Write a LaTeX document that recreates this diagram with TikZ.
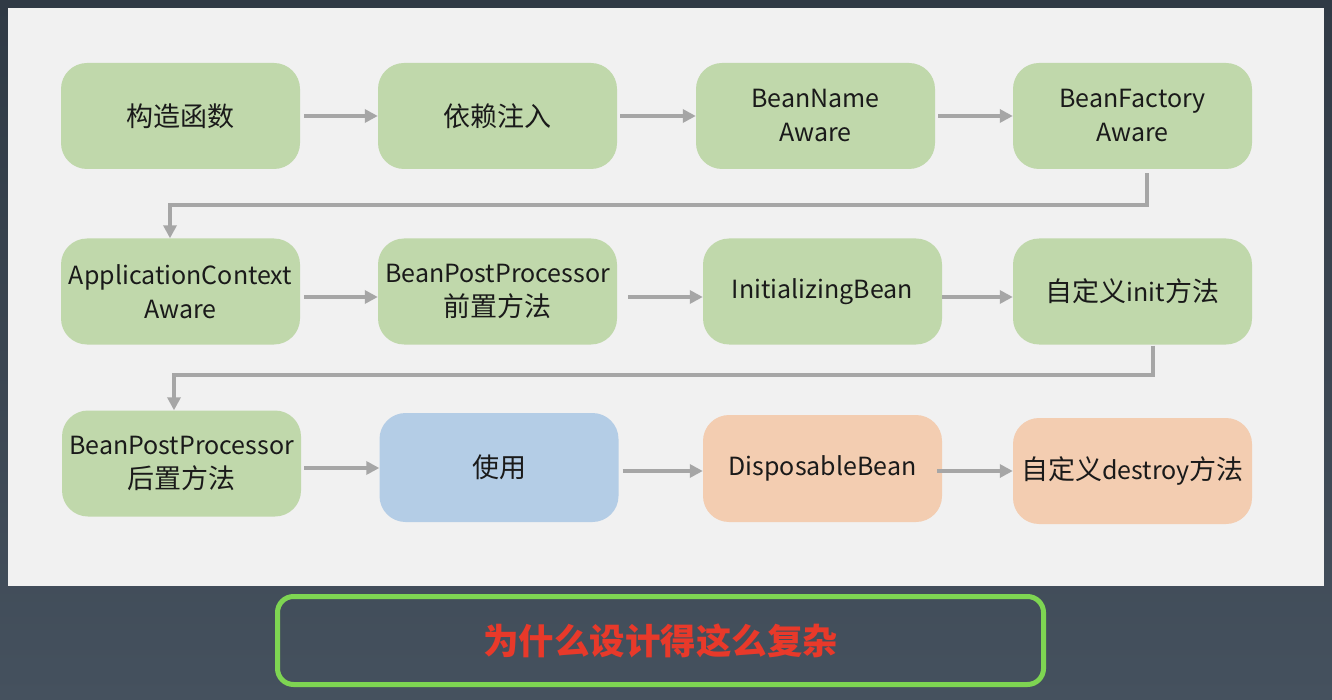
\documentclass[tikz,border=0pt]{standalone}
\usepackage{fontspec}
\setmainfont{Noto Sans CJK SC}
\usetikzlibrary{arrows.meta}
\definecolor{bgtop}{HTML}{303A45}
\definecolor{bgbot}{HTML}{45515E}
\definecolor{panel}{HTML}{F1F1F1}
\definecolor{gfill}{HTML}{C0D8AB}
\definecolor{bfill}{HTML}{B4CDE6}
\definecolor{ofill}{HTML}{F3CDB1}
\definecolor{arrc}{HTML}{A6A6A6}
\definecolor{tcol}{HTML}{1A1A1A}
\definecolor{gbord}{HTML}{7ED552}
\definecolor{redt}{HTML}{E8392A}
\newcommand\zhtxt[1]{{\fontsize{27}{34}\selectfont #1}}
\tikzset{
  box/.style={rectangle, rounded corners=26pt, minimum width=239pt, minimum height=106pt,
    inner sep=0pt, align=center, text=tcol, font=\fontsize{25}{34}\selectfont},
  gbox/.style={box, fill=gfill},
  arr/.style={draw=arrc, line width=3.6pt, -{Triangle[length=13pt,width=13pt]}},
}
\begin{document}
\begin{tikzpicture}[x=1pt,y=-1pt]
\useasboundingbox (0,0) rectangle (1332,700);
\shade[top color=bgtop, bottom color=bgbot] (0,0) rectangle (1332,700);
\fill[panel] (8,8) rectangle (1324,586);
% row 1
\node[gbox] (n1) at (180.5,116) {\zhtxt{构造函数}};
\node[gbox] (n2) at (497.5,116) {\zhtxt{依赖注入}};
\node[gbox] (n3) at (815.5,116) {BeanName\\Aware};
\node[gbox] (n4) at (1132.5,116) {BeanFactory\\Aware};
% row 2
\node[gbox] (n5) at (180.5,291.5) {ApplicationContext\\Aware};
\node[gbox] (n6) at (497.5,291.5) {BeanPostProcessor\\\zhtxt{前置方法}};
\node[gbox] (n7) at (822.5,291.5) {InitializingBean};
\node[gbox] (n8) at (1132.5,291.5) {\zhtxt{自定义}init\zhtxt{方法}};
% row 3
\node[gbox] (n9) at (181.5,463.5) {BeanPostProcessor\\\zhtxt{后置方法}};
\node[box, fill=bfill, minimum height=109pt] (n10) at (499,467.5) {\zhtxt{使用}};
\node[box, fill=ofill, minimum height=107pt] (n11) at (822.5,468.5) {DisposableBean};
\node[box, fill=ofill] (n12) at (1132.5,471) {\zhtxt{自定义}destroy\zhtxt{方法}};
% arrows row 1
\draw[arr] ([xshift=4pt]n1.east) -- (n2.west);
\draw[arr] ([xshift=3pt]n2.east) -- (n3.west);
\draw[arr] ([xshift=3pt]n3.east) -- (n4.west);
% connector 1
\coordinate (c1a) at (1147,205);
\coordinate (c1b) at (170,205);
\draw[arr] ([xshift=14.5pt,yshift=-4pt]n4.south) -- (c1a) -- (c1b) -- (c1b |- n5.north);
% arrows row 2
\draw[arr] ([xshift=4pt,yshift=-5.5pt]n5.east) -- ([yshift=-5.5pt]n6.west);
\draw[arr] ([xshift=11pt,yshift=-5.5pt]n6.east) -- ([yshift=-5.5pt]n7.west);
\draw[arr] ([xshift=0pt,yshift=-5.5pt]n7.east) -- ([yshift=-5.5pt]n8.west);
% connector 2
\coordinate (c2a) at (1153,375);
\coordinate (c2b) at (174,375);
\draw[arr] ([xshift=20.5pt,yshift=-1pt]n8.south) -- (c2a) -- (c2b) -- (c2b |- n9.north);
% arrows row 3
\draw[arr] ([xshift=3pt,yshift=-4.5pt]n9.east) -- ([yshift=-0.5pt]n10.west);
\draw[arr] ([xshift=4pt,yshift=-3.5pt]n10.east) -- ([yshift=-2.5pt]n11.west);
\draw[arr] ([xshift=-5pt,yshift=-2.5pt]n11.east) -- ([yshift=0pt]n12.west);
% bottom question
\node[rectangle, rounded corners=16pt, draw=gbord, line width=5pt, minimum width=766pt, minimum height=88pt,
  text=redt, font=\fontsize{35.5}{40}\selectfont\bfseries] (q) at (660.5,640.5) {为什么设计得这么复杂};
\end{tikzpicture}
\end{document}
